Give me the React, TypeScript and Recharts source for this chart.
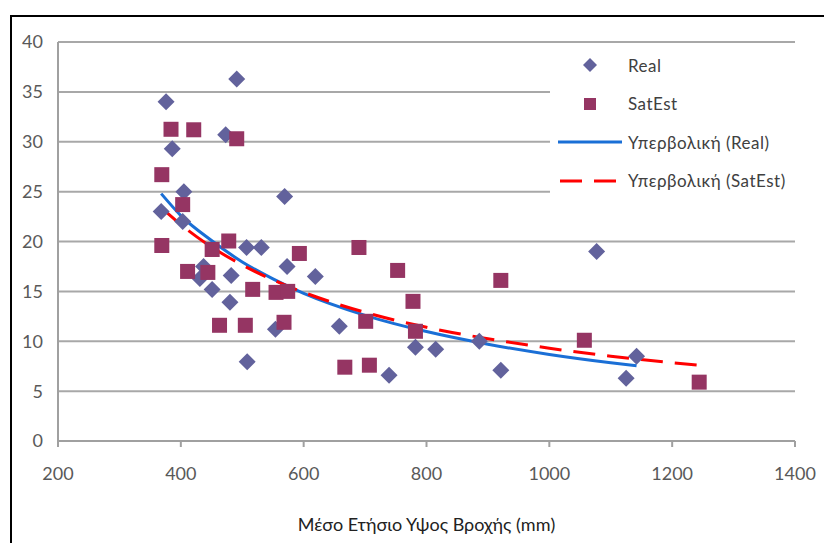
import {
  ComposedChart,
  Scatter,
  Line,
  XAxis,
  YAxis,
  CartesianGrid,
  Legend,
  Label,
} from "recharts";

// Real (diamonds)
const realX = [376, 491, 386, 473, 405, 368, 403, 569, 507, 531, 437, 431, 482, 451, 480, 573, 619, 554, 508, 658, 739, 782, 815, 886, 921, 1077, 1125, 1142];
const realY = [34.0, 36.3, 29.3, 30.7, 25.0, 23.0, 22.0, 24.5, 19.4, 19.4, 17.5, 16.3, 16.6, 15.2, 13.9, 17.5, 16.5, 11.2, 7.95, 11.5, 6.6, 9.4, 9.2, 10.0, 7.1, 19.0, 6.3, 8.5];

// SatEst (squares)
const satX = [384, 421, 491, 369, 403, 369, 478, 451, 411, 444, 593, 690, 753, 778, 782, 701, 517, 555, 574, 463, 505, 568, 667, 707, 921, 1057, 1244];
const satY = [31.25, 31.2, 30.3, 26.7, 23.7, 19.6, 20.05, 19.2, 17.0, 16.9, 18.8, 19.4, 17.1, 14.0, 11.0, 12.0, 15.2, 14.9, 15.0, 11.6, 11.6, 11.9, 7.4, 7.6, 16.1, 10.1, 5.9];

// trend lines
const fitRealX = [368, 400, 450, 500, 550, 600, 700, 800, 900, 1000, 1100, 1142];
const fitRealY = [24.8, 22.6, 20.1, 17.95, 16.25, 14.8, 12.6, 10.97, 9.7, 8.68, 7.85, 7.55];
const fitSatX = [370, 400, 450, 500, 550, 600, 700, 800, 900, 1000, 1100, 1244];
const fitSatY = [23.3, 21.7, 19.45, 17.65, 16.15, 14.9, 12.9, 11.4, 10.25, 9.3, 8.5, 7.6];

const xTicks = [200, 400, 600, 800, 1000, 1200, 1400];
const yTicks = [0, 5, 10, 15, 20, 25, 30, 35, 40];

const zip = (xs: number[], ys: number[]) => xs.map((x, i) => ({ x, y: ys[i] }));

const realData = zip(realX, realY);
const satData = zip(satX, satY);
const fitRealData = zip(fitRealX, fitRealY);
const fitSatData = zip(fitSatX, fitSatY);

const DIAMOND = "#62629c";
const SQUARE = "#953563";
const BLUE = "#1a6fd6";
const RED = "#ff0000";
const FONT = "Lato, 'Open Sans', sans-serif";

const Diamond = (props: any) => {
  const { cx, cy } = props;
  const r = 8.5;
  return (
    <polygon
      points={`${cx},${cy - r} ${cx + r},${cy} ${cx},${cy + r} ${cx - r},${cy}`}
      fill={DIAMOND}
    />
  );
};

const Square = (props: any) => {
  const { cx, cy } = props;
  const s = 15;
  return <rect x={cx - s / 2} y={cy - s / 2} width={s} height={s} fill={SQUARE} />;
};

const legendItems = [
  { name: "Real", kind: "diamond" },
  { name: "SatEst", kind: "square" },
  { name: "Υπερβολική (Real)", kind: "line" },
  { name: "Υπερβολική (SatEst)", kind: "dash" },
];

const renderLegend = () => (
  <div style={{ background: "#fff", width: 250 }}>
    {legendItems.map((it) => (
      <div key={it.name} style={{ display: "flex", alignItems: "center", height: 38.5 }}>
        <svg width={78} height={20}>
          {it.kind === "diamond" && (
            <polygon points="40,3 47,10 40,17 33,10" fill={DIAMOND} />
          )}
          {it.kind === "square" && <rect x={34} y={4} width={12} height={12} fill={SQUARE} />}
          {it.kind === "line" && (
            <line x1={8} y1={10} x2={72} y2={10} stroke={BLUE} strokeWidth={3} />
          )}
          {it.kind === "dash" && (
            <line x1={10} y1={10} x2={67} y2={10} stroke={RED} strokeWidth={3} strokeDasharray="22 12" />
          )}
        </svg>
        <span style={{ fontFamily: FONT, fontSize: 17, color: "#404040", letterSpacing: 0.5 }}>
          {it.name}
        </span>
      </div>
    ))}
  </div>
);

export default function App() {
  return (
    <div style={{ position: "absolute", left: 0, top: 0, width: 824, height: 543, background: "#fff", overflow: "hidden" }}>
      <div
        style={{
          position: "absolute",
          left: 10,
          top: 15,
          width: 830,
          height: 540,
          borderLeft: "2px solid #000",
          borderTop: "2px solid #000",
        }}
      />
      <ComposedChart
        width={824}
        height={543}
        margin={{ top: 42, right: 29, bottom: 0, left: 0 }}
        style={{ position: "absolute", left: 0, top: 0 }}
      >
        <CartesianGrid vertical={false} stroke="#a8a8a8" strokeWidth={2} />
        <XAxis
          type="number"
          dataKey="x"
          domain={[200, 1400]}
          ticks={xTicks}
          height={102}
          stroke="#a0a0a0"
          strokeWidth={2}
          tickSize={6}
          tickMargin={20}
          tick={{ fill: "#595959", fontSize: 18, fontFamily: FONT }}
          allowDataOverflow
        >
          <Label
            value="Μέσο Ετήσιο Υψος Βροχής (mm)"
            position="insideBottom"
            offset={12}
            style={{ fill: "#222", fontSize: 18, fontFamily: FONT }}
          />
        </XAxis>
        <YAxis
          type="number"
          dataKey="y"
          domain={[0, 40]}
          ticks={yTicks}
          width={58}
          stroke="#a0a0a0"
          strokeWidth={2}
          tickLine={false}
          tickMargin={9}
          tick={{ fill: "#595959", fontSize: 18, fontFamily: FONT }}
        />
        <Scatter name="Real" data={realData} shape={Diamond} isAnimationActive={false} />
        <Scatter name="SatEst" data={satData} shape={Square} isAnimationActive={false} />
        <Line
          data={fitRealData}
          dataKey="y"
          type="monotone"
          stroke={BLUE}
          strokeWidth={3}
          dot={false}
          activeDot={false}
          isAnimationActive={false}
        />
        <Line
          data={fitSatData}
          dataKey="y"
          type="monotone"
          stroke={RED}
          strokeWidth={3}
          strokeDasharray="22 12"
          dot={false}
          activeDot={false}
          isAnimationActive={false}
        />
        <Legend
          layout="vertical"
          align="center"
          verticalAlign="middle"
          content={renderLegend}
          wrapperStyle={{ left: 550, top: 46, width: 250 }}
        />
      </ComposedChart>
    </div>
  );
}
